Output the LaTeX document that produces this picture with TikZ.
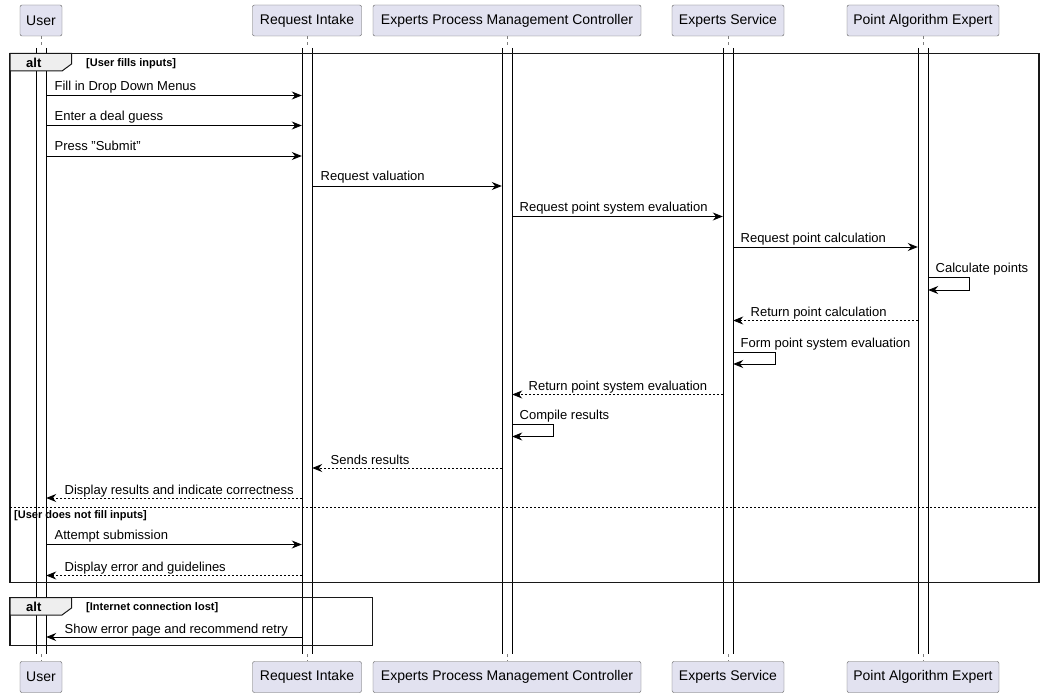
\documentclass[tikz,border=0pt]{standalone}
\usepackage{fontspec}
\setmainfont{Liberation Sans}
\usetikzlibrary{arrows.meta,positioning}
\definecolor{partfill}{HTML}{E2E2F0}
\definecolor{partline}{HTML}{181818}
\definecolor{tabfill}{HTML}{EEEEEE}

\begin{document}
\begin{tikzpicture}[x=1pt, y=-1pt,
    participant/.style={rectangle, rounded corners=2pt, draw=partline!70, fill=partfill, font=\fontsize{14}{16}\selectfont, minimum height=31pt, inner xsep=6pt},
    bar/.style={rectangle, fill=white, minimum width=10pt, minimum height=606pt, inner sep=0pt},
    lifeline/.style={draw=gray, dash pattern=on 3pt off 3pt, line width=0.6pt},
    msg/.style={-{Stealth[length=10pt,width=8pt]}, line width=0.9pt},
    ret/.style={msg, dash pattern=on 2pt off 2pt},
    lbl/.style={font=\fontsize{13}{15}\selectfont, inner sep=0pt, anchor=base west},
    frame/.style={draw=partline, line width=1.6pt},
    tab/.style={draw=partline, line width=1pt, fill=tabfill},
    guard/.style={font=\fontsize{11}{13}\selectfont\bfseries, inner sep=0pt, anchor=base west}
]
\useasboundingbox (0,0) rectangle (1045,698);

% Participants (top)
\node[participant, minimum width=42pt] (user) at (41,20.5) {User};
\node[participant, minimum width=109pt] (intake) at (307,20.5) {Request Intake};
\node[participant, minimum width=268pt] (ctrl) at (507,20.5) {Experts Process Management Controller};
\node[participant, minimum width=112pt] (service) at (728,20.5) {Experts Service};
\node[participant, minimum width=152pt] (expert) at (923,20.5) {Point Algorithm Expert};

% Participants (bottom)
\node[participant, minimum width=42pt] (userb) at (41,677) {User};
\node[participant, minimum width=109pt] (intakeb) at (307,677) {Request Intake};
\node[participant, minimum width=268pt] (ctrlb) at (507,677) {Experts Process Management Controller};
\node[participant, minimum width=112pt] (serviceb) at (728,677) {Experts Service};
\node[participant, minimum width=152pt] (expertb) at (923,677) {Point Algorithm Expert};

% Lifelines
\draw[lifeline] (user.south) -- (userb.north);
\draw[lifeline] (intake.south) -- (intakeb.north);
\draw[lifeline] (ctrl.south) -- (ctrlb.north);
\draw[lifeline] (service.south) -- (serviceb.north);
\draw[lifeline] (expert.south) -- (expertb.north);

% Activation bars
\node[bar] (userbar) at (41,351) {};
\node[bar] (intakebar) at (307,351) {};
\node[bar] (ctrlbar) at (507,351) {};
\node[bar] (servicebar) at (728,351) {};
\node[bar] (expertbar) at (923,351) {};
\foreach \b in {userbar,intakebar,ctrlbar,servicebar,expertbar}
    \draw (\b.north west) -- (\b.south west) (\b.north east) -- (\b.south east);

% alt: user fills inputs
\draw[frame] (10,53.5) rectangle (1039,582.5);
\draw[tab] (10,53.5) -- (71.5,53.5) -- (71.5,64) -- (62,71) -- (10,71) -- cycle;
\node[font=\fontsize{13}{15}\selectfont\bfseries, inner sep=0pt, anchor=base west] (alta) at (26,67.5) {alt};
\node[guard] (guarda) at (86,66.5) {[User fills inputs]};
\draw[dash pattern=on 2pt off 2pt, line width=0.8pt] (10,507) -- (1039,507);
\node[guard] (guardb) at (14,518.5) {[User does not fill inputs]};

% alt: internet connection lost
\draw[frame] (10,597.5) rectangle (372.5,645.5);
\draw[tab] (10,597.5) -- (71.5,597.5) -- (71.5,608) -- (62,615) -- (10,615) -- cycle;
\node[font=\fontsize{13}{15}\selectfont\bfseries, inner sep=0pt, anchor=base west] (altc) at (26,611.5) {alt};
\node[guard] (guardc) at (86,610) {[Internet connection lost]};

% Messages
\draw[msg] (userbar.east |- 0,95.5) -- (intakebar.west |- 0,95.5)
    node[lbl, pos=0, xshift=8pt, yshift=5pt] {Fill in Drop Down Menus};
\draw[msg] (userbar.east |- 0,125.5) -- (intakebar.west |- 0,125.5)
    node[lbl, pos=0, xshift=8pt, yshift=5pt] {Enter a deal guess};
\draw[msg] (userbar.east |- 0,156) -- (intakebar.west |- 0,156)
    node[lbl, pos=0, xshift=8pt, yshift=5pt] {Press "Submit"};
\draw[msg] (intakebar.east |- 0,186) -- (ctrlbar.west |- 0,186)
    node[lbl, pos=0, xshift=8pt, yshift=5pt] {Request valuation};
\draw[msg] (ctrlbar.east |- 0,216.5) -- (servicebar.west |- 0,216.5)
    node[lbl, pos=0, xshift=7pt, yshift=5pt] {Request point system evaluation};
\draw[msg] (servicebar.east |- 0,247) -- (expertbar.west |- 0,247)
    node[lbl, pos=0, xshift=7pt, yshift=5pt] {Request point calculation};
\draw[msg] (expertbar.east |- 0,277.5) -- ++(41,0) -- ++(0,12.5)
    node[lbl, pos=0, xshift=-34pt, yshift=5pt] {Calculate points}
    -- (expertbar.east |- 0,290);
\draw[ret] (expertbar.west |- 0,320.5) -- (servicebar.east |- 0,320.5)
    node[lbl, pos=1, xshift=17pt, yshift=4pt] {Return point calculation};
\draw[msg] (servicebar.east |- 0,352) -- ++(42,0) -- ++(0,12)
    node[lbl, pos=0, xshift=-35pt, yshift=5pt] {Form point system evaluation}
    -- (servicebar.east |- 0,364);
\draw[ret] (servicebar.west |- 0,394.5) -- (ctrlbar.east |- 0,394.5)
    node[lbl, pos=1, xshift=16pt, yshift=4pt] {Return point system evaluation};
\draw[msg] (ctrlbar.east |- 0,424.5) -- ++(41,0) -- ++(0,12)
    node[lbl, pos=0, xshift=-34pt, yshift=5pt] {Compile results}
    -- (ctrlbar.east |- 0,436.5);
\draw[ret] (ctrlbar.west |- 0,468) -- (intakebar.east |- 0,468)
    node[lbl, pos=1, xshift=18pt, yshift=4pt] {Sends results};
\draw[ret] (intakebar.west |- 0,498) -- (userbar.east |- 0,498)
    node[lbl, pos=1, xshift=18pt, yshift=4pt] {Display results and indicate correctness};
\draw[msg] (userbar.east |- 0,544.5) -- (intakebar.west |- 0,544.5)
    node[lbl, pos=0, xshift=8pt, yshift=5pt] {Attempt submission};
\draw[ret] (intakebar.west |- 0,575.5) -- (userbar.east |- 0,575.5)
    node[lbl, pos=1, xshift=18pt, yshift=4pt] {Display error and guidelines};
\draw[msg] (intakebar.west |- 0,637) -- (userbar.east |- 0,637)
    node[lbl, pos=1, xshift=18pt, yshift=4pt] {Show error page and recommend retry};

\end{tikzpicture}
\end{document}
